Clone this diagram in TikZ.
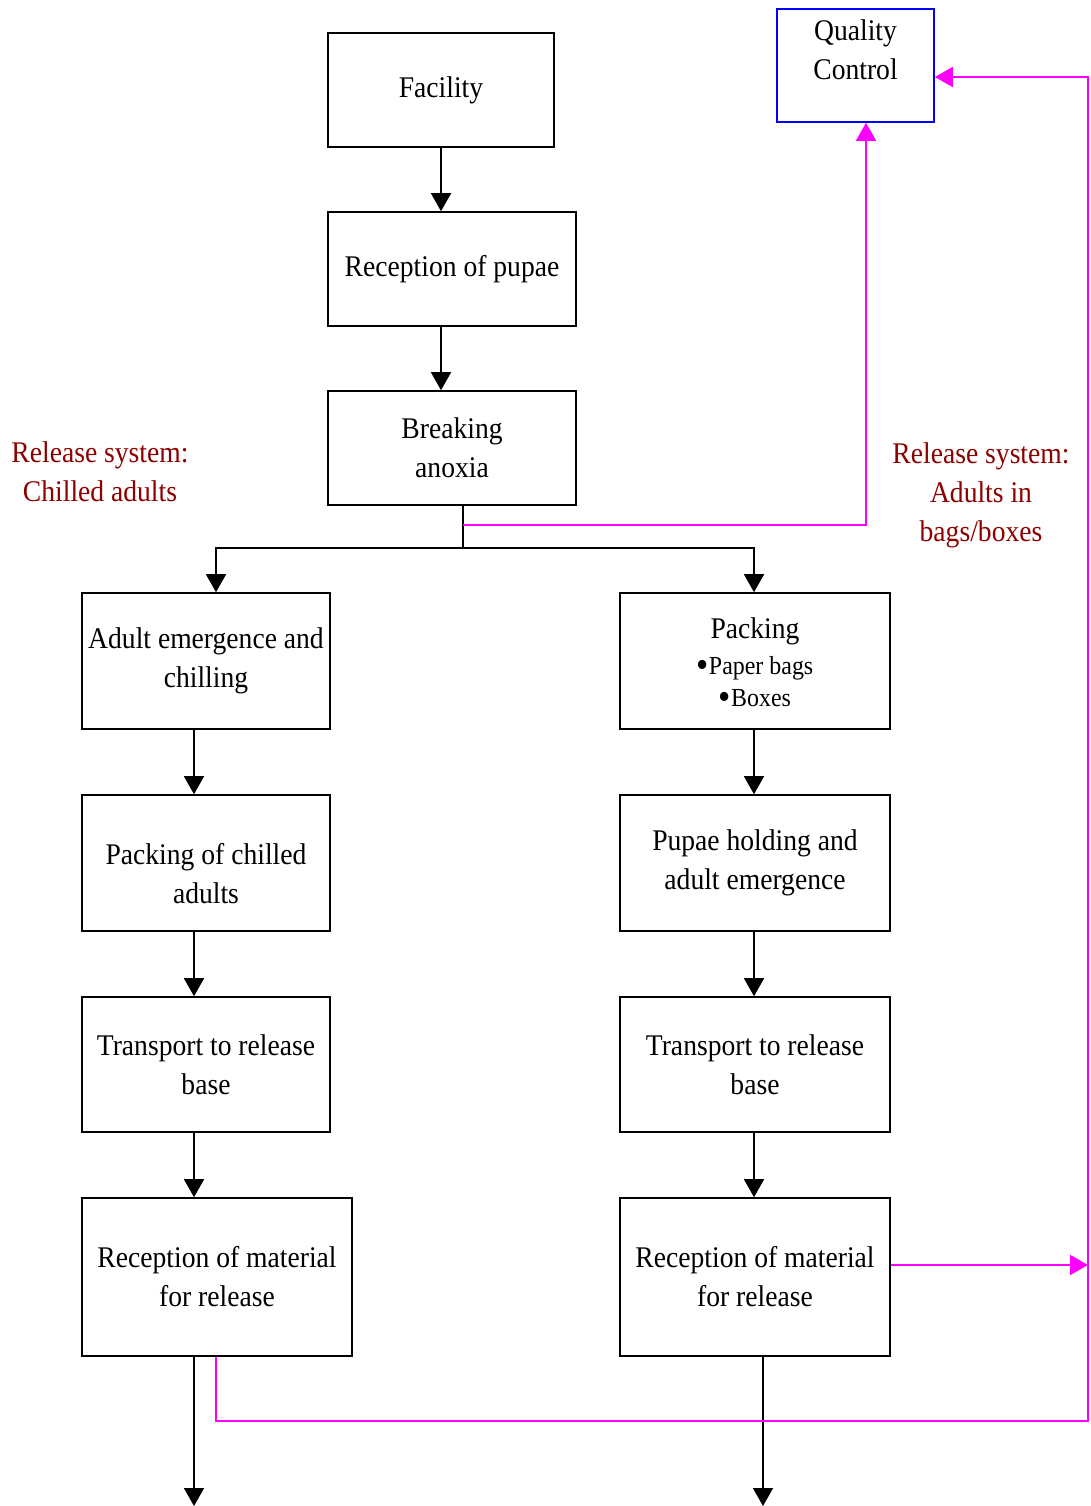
\documentclass[tikz,border=0pt]{standalone}
\usepackage{fontspec}
\setmainfont{Liberation Serif}[FakeStretch=0.92]
\usetikzlibrary{arrows.meta,calc}
\definecolor{qcmag}{RGB}{255,0,255}
\definecolor{relred}{RGB}{140,0,0}
\definecolor{qcblue}{RGB}{0,0,255}
\newcommand{\bigdot}{\raisebox{-3pt}{\fontsize{38}{38}\selectfont•}}
\begin{document}
\begin{tikzpicture}[x=1pt,y=-1pt,
  txt/.style={font=\fontsize{30}{39}\selectfont,align=center},
  small/.style={font=\fontsize{26}{32}\selectfont,align=center,inner sep=0pt},
  box/.style={txt,draw=black,line width=1.6pt,inner sep=0pt},
  arr/.style={line width=1.6pt,-{Triangle[width=20pt,length=18pt]}},
  plain/.style={line width=1.6pt},
  magarr/.style={draw=qcmag,line width=1.6pt,-{Triangle[width=20pt,length=18pt]}},
  reltxt/.style={txt,text=relred}]
\useasboundingbox[fill=white] (0,0) rectangle (1090,1506);

% central chain
\node[box,minimum width=226pt,minimum height=114pt] (fac) at (441,90) {Facility};
\node[box,minimum width=248pt,minimum height=114pt] (rcp) at (452,269) {Reception of pupae};
\node[box,minimum width=248pt,minimum height=114pt] (brk) at (452,448) {Breaking\\anoxia};

% quality control
\node[box,draw=qcblue,minimum width=157pt,minimum height=113pt] (qc) at (855.5,65.5) {};
\node[txt,anchor=north,inner sep=0pt] (qctext) at (855.5,19) {Quality\\Control};

% left branch: chilled adults
\node[box,minimum width=248pt,minimum height=136pt] (ladult) at (206,661) {Adult emergence and\\chilling};
\node[box,minimum width=248pt,minimum height=136pt,
  label={[txt,yshift=-11pt]center:Packing of chilled\\adults}] (lpack) at (206,863) {};
\node[box,minimum width=248pt,minimum height=135pt] (ltrans) at (206,1064.5) {Transport to release\\base};
\node[box,minimum width=270pt,minimum height=158pt] (lrec) at (217,1277) {Reception of material\\for release};

% right branch: adults in bags/boxes
\node[box,minimum width=270pt,minimum height=136pt] (rpack) at (755,661) {};
\node[txt,inner sep=0pt,anchor=base] (rpack-t) at (755,638) {Packing};
\node[small,anchor=base] (rpack-a) at (755,674) {\bigdot Paper bags};
\node[small,anchor=base] (rpack-b) at (755,706) {\bigdot Boxes};
\node[box,minimum width=270pt,minimum height=136pt] (rhold) at (755,863) {Pupae holding and\\adult emergence};
\node[box,minimum width=270pt,minimum height=135pt] (rtrans) at (755,1064.5) {Transport to release\\base};
\node[box,minimum width=270pt,minimum height=158pt] (rrec) at (755,1277) {Reception of material\\for release};

% release system labels
\node[reltxt] (relL) at (100,472) {Release system:\\Chilled adults};
\node[reltxt] (relR) at (981,495) {Release system:\\Adults in\\bags/boxes};

% guide coordinates
\coordinate (split) at (463,548);
\coordinate (lbr) at (216,0);
\coordinate (rbr) at (754,0);
\coordinate (lx) at (194,0);
\coordinate (rx) at (754,0);
\coordinate (rxo) at (763,0);
\coordinate (bot) at (0,1506);
\coordinate (qcin) at (866,525);
\coordinate (edge) at (1088,77);
\coordinate (loop) at (216,1421);
\coordinate (rout) at (1088,1265);

% main flow
\draw[arr] (fac.south) -- (rcp.north -| fac);
\draw[arr] (rcp.south -| fac) -- (brk.north -| fac);
\draw[plain] (brk.south -| split) -- (split);
\draw[arr] (split) -| (ladult.north -| lbr);
\draw[arr] (split) -| (rpack.north -| rbr);

\draw[arr] (ladult.south -| lx) -- (lpack.north -| lx);
\draw[arr] (lpack.south -| lx) -- (ltrans.north -| lx);
\draw[arr] (ltrans.south -| lx) -- (lrec.north -| lx);
\draw[arr] (lrec.south -| lx) -- (lx |- bot);

\draw[arr] (rpack.south -| rx) -- (rhold.north -| rx);
\draw[arr] (rhold.south -| rx) -- (rtrans.north -| rx);
\draw[arr] (rtrans.south -| rx) -- (rrec.north -| rx);
\draw[arr] (rrec.south -| rxo) -- (rxo |- bot);

% quality control feedback
\draw[magarr] (split |- qcin) -- (qcin) -- (qc.south -| qcin);
\draw[magarr] (rrec.east |- rout) -- (rout);
\draw[magarr] (lrec.south -| loop) -- (loop) -- (loop -| edge) -- (edge) -- (qc.east |- edge);
\end{tikzpicture}
\end{document}
